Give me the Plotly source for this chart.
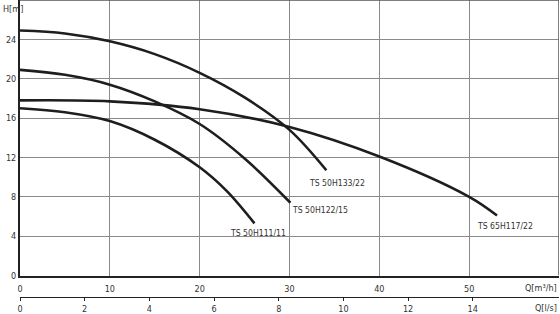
import plotly.graph_objects as go

# Pump curves: Q [m3/h] vs H [m]
q_133 = [0, 5, 10, 15, 20, 25, 30, 34.1]
h_133 = [24.9, 24.6, 23.8, 22.5, 20.6, 18.1, 14.8, 10.7]

q_122 = [0, 5, 10, 15, 20, 25, 30.1]
h_122 = [20.9, 20.4, 19.4, 17.7, 15.4, 11.9, 7.4]

q_111 = [0, 5, 10, 15, 20, 23, 26.1]
h_111 = [17.0, 16.6, 15.7, 13.8, 11.0, 8.6, 5.3]

q_117 = [0, 10, 20, 30, 40, 50, 53.1]
h_117 = [17.8, 17.7, 16.9, 15.1, 12.1, 8.0, 6.1]

names = ["TS 50H133/22", "TS 50H122/15", "TS 50H111/11", "TS 65H117/22"]

x_ticks = [0, 10, 20, 30, 40, 50]
y_ticks = [0, 4, 8, 12, 16, 20, 24]
ls_ticks = [0, 2, 4, 6, 8, 10, 12, 14]

FONT = "DejaVu Sans Condensed, DejaVu Sans"
LINE = "#1e1e1e"
GRID = "#8a8a8a"
TXT = "#333"

fig = go.Figure()
for q, h in [(q_133, h_133), (q_122, h_122), (q_111, h_111), (q_117, h_117)]:
    fig.add_trace(go.Scatter(x=q, y=h, mode="lines",
                             line=dict(color=LINE, width=2.6, shape="spline", smoothing=1.0),
                             showlegend=False, hoverinfo="skip"))

# dummy trace for second axis
fig.add_trace(go.Scatter(x=[0], y=[0], xaxis="x2", mode="markers",
                         marker=dict(opacity=0), showlegend=False, hoverinfo="skip"))

label_pos = [
    (q_133[-1], h_133[-1], names[0], -2.1, -0.6),
    (q_122[-1], h_122[-1], names[1], -0.1, 0.0),
    (q_111[-1], h_111[-1], names[2], -3.0, -0.3),
    (q_117[-1], h_117[-1], names[3], -2.4, -0.4),
]
for qx, hy, txt, dx, dy in label_pos:
    fig.add_annotation(x=qx + dx, y=hy + dy, text=txt, showarrow=False,
                       xanchor="left", yanchor="top", xref="x", yref="y",
                       font=dict(family=FONT, size=8.6, color=TXT))

fig.add_annotation(x=0, y=1, xref="paper", yref="paper", text="H[m]",
                   showarrow=False, xanchor="left", yanchor="top", xshift=-19, yshift=-2,
                   font=dict(family=FONT, size=9, color=TXT))
fig.add_annotation(x=1, y=0.0, xref="paper", yref="paper", text="Q[m³/h]",
                   showarrow=False, xanchor="right", yanchor="middle", yshift=21,
                   font=dict(family=FONT, size=9, color=TXT))
fig.add_annotation(x=1, y=0.0, xref="paper", yref="paper", text="Q[l/s]",
                   showarrow=False, xanchor="right", yanchor="middle", yshift=1,
                   font=dict(family=FONT, size=9, color=TXT))

fig.update_layout(
    width=560, height=314,
    margin=dict(l=20, r=1, t=0, b=0),
    plot_bgcolor="white", paper_bgcolor="white",
    font=dict(family=FONT, size=9, color=TXT),
    xaxis=dict(range=[0, 60], tickvals=x_ticks, showgrid=True, gridcolor=GRID, gridwidth=1,
               zeroline=False, showline=True, linecolor="#222", linewidth=2,
               mirror=False, ticks="outside", ticklen=4, tickcolor="rgba(0,0,0,0)",
               anchor="y", fixedrange=True,
               tickfont=dict(family=FONT, size=9, color=TXT)),
    xaxis2=dict(range=[0, 60 / 3.6], tickvals=ls_ticks, overlaying="x", side="bottom",
                anchor="free", position=12 / 314, showgrid=False, zeroline=False,
                showline=True, linecolor="#222", linewidth=1, ticks="outside", ticklen=3,
                tickcolor="#222", fixedrange=True,
                tickfont=dict(family=FONT, size=9, color=TXT)),
    yaxis=dict(range=[0, 28], tickvals=y_ticks, domain=[34 / 314, 1], showgrid=True,
               gridcolor=GRID, gridwidth=1, zeroline=False, showline=True,
               linecolor="#222", linewidth=2, ticks="", fixedrange=True,
               tickfont=dict(family=FONT, size=9, color=TXT)),
)

# top and right borders
fig.add_shape(type="line", xref="paper", yref="y", x0=0, x1=1, y0=28, y1=28,
              line=dict(color="#555", width=1.5))
fig.add_shape(type="line", xref="x", yref="y", x0=60, x1=60, y0=0, y1=28,
              line=dict(color="#555", width=1.5))

fig.write_html("out.html")
